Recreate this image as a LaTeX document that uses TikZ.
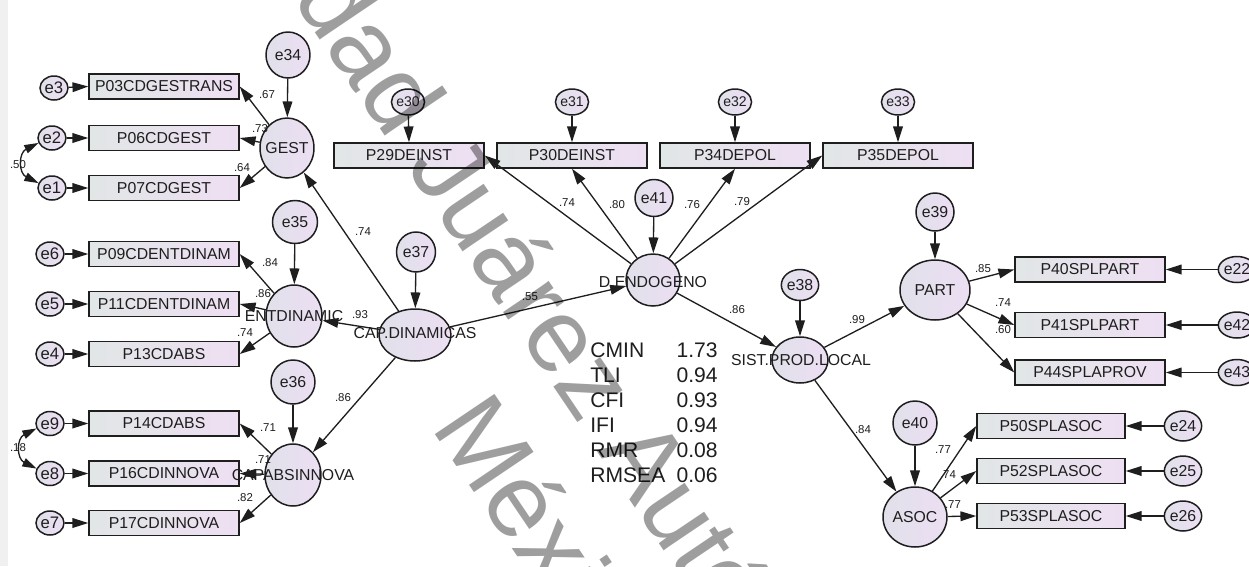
\documentclass[tikz,border=0pt]{standalone}
\usepackage{fontspec}
\setmainfont{Liberation Sans}
\usetikzlibrary{shapes.geometric,arrows.meta}
\definecolor{latL}{HTML}{E1E0EA}
\definecolor{latR}{HTML}{ECDFF3}
\definecolor{boxL}{HTML}{E1E6E6}
\definecolor{boxR}{HTML}{EEDFF3}
\definecolor{ink}{HTML}{1E1E1E}
\begin{document}
\begin{tikzpicture}[x=0.02cm,y=-0.02cm,
  ov/.style={ellipse, draw=ink, line width=0.85pt, left color=latL, right color=latR, inner sep=0pt, text=ink},
  ob/.style={rectangle, draw=ink, line width=0.85pt, left color=boxL, right color=boxR, minimum width=3cm, minimum height=0.5cm, inner sep=0pt, font=\fontsize{9}{10}\selectfont, text=ink},
  lt/.style={font=\fontsize{9}{10}\selectfont, text=ink, inner sep=0pt},
  cf/.style={font=\fontsize{6.5}{7}\selectfont, text=ink, inner sep=0pt},
  pa/.style={draw=ink, line width=0.75pt, -{Triangle[length=9pt,width=5.5pt]}},
  cv/.style={draw=ink, line width=0.75pt, {Triangle[length=8pt,width=5pt]}-{Triangle[length=8pt,width=5pt]}},
  st/.style={font=\fontsize{12}{13}\selectfont, text=ink, inner sep=0pt},
  es/.style={ov, minimum width=0.56cm, minimum height=0.48cm, font=\fontsize{9.5}{10}\selectfont},
  et/.style={ov, minimum width=0.48cm, minimum height=0.52cm, font=\fontsize{8}{9}\selectfont},
  er/.style={ov, minimum width=0.56cm, minimum height=0.52cm, font=\fontsize{9}{10}\selectfont},
  eb/.style={ov, font=\fontsize{9}{10}\selectfont}
]
\useasboundingbox (0,0) rectangle (1249,566);
\clip (0,0) rectangle (1249,566);
\fill[white] (0,0) rectangle (1249,566);
\fill[black!6] (0,0) rectangle (8,566);

% ---------- left indicators ----------
\node[ob] (P03) at (164,86.5) {P03CDGESTRANS};
\node[ob] (P06) at (164,138) {P06CDGEST};
\node[ob] (P07) at (164,188) {P07CDGEST};
\node[ob] (P09) at (164,254) {P09CDENTDINAM};
\node[ob] (P11) at (164,304) {P11CDENTDINAM};
\node[ob] (P13) at (164,354) {P13CDABS};
\node[ob] (P14) at (164,423.5) {P14CDABS};
\node[ob] (P16) at (164,473.5) {P16CDINNOVA};
\node[ob] (P17) at (164,523) {P17CDINNOVA};

\node[es] (e3) at (54,88) {e3};
\node[es] (e2) at (52,138) {e2};
\node[es] (e1) at (52,188) {e1};
\node[es] (e6) at (50,254) {e6};
\node[es] (e5) at (50,304) {e5};
\node[es] (e4) at (50,354) {e4};
\node[es] (e9) at (50,423.5) {e9};
\node[es] (e8) at (50,473.5) {e8};
\node[es] (e7) at (50,523) {e7};

% ---------- top indicators ----------
\node[ob] (P29) at (409,155.5) {P29DEINST};
\node[ob] (P30) at (572,155.5) {P30DEINST};
\node[ob] (P34) at (735,155.5) {P34DEPOL};
\node[ob] (P35) at (898,155.5) {P35DEPOL};
\node[et] (e30) at (408,102) {e30};
\node[et] (e31) at (572,102) {e31};
\node[et] (e32) at (735,102) {e32};
\node[et] (e33) at (898,102) {e33};

% ---------- right indicators ----------
\node[ob] (P40) at (1090,269.5) {P40SPLPART};
\node[ob] (P41) at (1090,325) {P41SPLPART};
\node[ob] (P44) at (1090,372.5) {P44SPLAPROV};
\node[ob, minimum width=2.96cm] (P50) at (1051,426) {P50SPLASOC};
\node[ob, minimum width=2.96cm] (P52) at (1051,471) {P52SPLASOC};
\node[ob, minimum width=2.96cm] (P53) at (1051,516) {P53SPLASOC};
\node[er] (e22) at (1237,269.5) {e22};
\node[er] (e42) at (1237,325) {e42};
\node[er] (e43) at (1237,372.5) {e43};
\node[er, minimum width=0.6cm, minimum height=0.6cm] (e24) at (1183,426) {e24};
\node[er, minimum width=0.6cm, minimum height=0.6cm] (e25) at (1183,471) {e25};
\node[er, minimum width=0.6cm, minimum height=0.6cm] (e26) at (1183,516) {e26};

% ---------- latent variables ----------
\node[ov, minimum width=1.08cm, minimum height=1.2cm] (GEST) at (287,148) {};
\node[ov, minimum width=1.12cm, minimum height=1.24cm] (ENT) at (294,316) {};
\node[ov, minimum width=1.12cm, minimum height=1.24cm] (CAB) at (293,475) {};
\node[ov, minimum width=1.44cm, minimum height=1.04cm] (CAP) at (415,335) {};
\node[ov, minimum width=1.08cm, minimum height=1.04cm] (DEND) at (653,280) {};
\node[ov, minimum width=1.12cm, minimum height=0.92cm] (SIST) at (800,360) {};
\node[ov, minimum width=1.4cm, minimum height=1.2cm] (PART) at (935,290) {};
\node[ov, minimum width=1.28cm, minimum height=1.2cm] (ASOC) at (915,517) {};

\node[eb, minimum width=0.88cm, minimum height=0.92cm] (e34) at (288,55) {e34};
\node[eb, minimum width=0.9cm, minimum height=0.86cm] (e35) at (295,222) {e35};
\node[eb, minimum width=0.88cm, minimum height=0.88cm] (e36) at (293,382) {e36};
\node[eb, minimum width=0.78cm, minimum height=0.8cm] (e37) at (416,252) {e37};
\node[eb, minimum width=0.76cm, minimum height=0.74cm] (e41) at (654,198) {e41};
\node[eb, minimum width=0.68cm, minimum height=0.62cm] (e38) at (800,285) {e38};
\node[eb, minimum width=0.76cm, minimum height=0.76cm] (e39) at (935,212) {e39};
\node[eb, minimum width=0.88cm, minimum height=0.88cm] (e40) at (915,423) {e40};

% ---------- connectors ----------
\draw[pa] (e34) -- (GEST);
\draw[pa] (e35) -- (ENT);
\draw[pa] (e36) -- (CAB);
\draw[pa] (e37) -- (CAP);
\draw[pa] (e41) -- (DEND);
\draw[pa] (e38) -- (SIST);
\draw[pa] (e39) -- (PART);
\draw[pa] (e40) -- (ASOC);

\draw[pa] (GEST) -- (P03.east);
\draw[pa] (GEST) -- (P06.east);
\draw[pa] (GEST) -- (P07.east);
\draw[pa] (ENT) -- (P09.east);
\draw[pa] (ENT) -- (P11.east);
\draw[pa] (ENT) -- (P13.east);
\draw[pa] (CAB) -- (P14.east);
\draw[pa] (CAB) -- (P16.east);
\draw[pa] (CAB) -- (P17.east);

\foreach \e/\p in {e3/P03,e2/P06,e1/P07,e6/P09,e5/P11,e4/P13,e9/P14,e8/P16,e7/P17}
  \draw[pa] (\e) -- (\p.west);
\draw[cv] (e2.200) .. controls +(-20,10) and +(-20,-10) .. (e1.160);
\draw[cv] (e9.200) .. controls +(-20,10) and +(-20,-10) .. (e8.160);

\draw[pa] (CAP) -- (GEST);
\draw[pa] (CAP) -- (ENT);
\draw[pa] (CAP) -- (CAB);
\draw[pa] (CAP) -- (DEND);

\draw[pa] (e30) -- (P29.north);
\draw[pa] (e31) -- (P30.north);
\draw[pa] (e32) -- (P34.north);
\draw[pa] (e33) -- (P35.north);
\draw[pa] (DEND) -- (P29.east);
\draw[pa] (DEND) -- (P30.south);
\draw[pa] (DEND) -- (P34.south);
\draw[pa] (DEND) -- (P35.west);

\draw[pa] (DEND) -- (SIST);
\draw[pa] (SIST) -- (PART);
\draw[pa] (SIST) -- (ASOC);

\draw[pa] (PART) -- (P40.west);
\draw[pa] (PART) -- (P41.west);
\draw[pa] (PART) -- (P44.west);
\draw[pa] (ASOC) -- (P50.west);
\draw[pa] (ASOC) -- (P52.west);
\draw[pa] (ASOC) -- (P53.west);
\draw[pa] (e22) -- (P40.east);
\draw[pa] (e42) -- (P41.east);
\draw[pa] (e43) -- (P44.east);
\draw[pa] (e24) -- (P50.east);
\draw[pa] (e25) -- (P52.east);
\draw[pa] (e26) -- (P53.east);

% ---------- latent labels ----------
\node[lt] (tGEST) at (GEST) {GEST};
\node[lt] (tENT) at (ENT) {ENTDINAMIC};
\node[lt] (tCAB) at (CAB) {CAPABSINNOVA};
\node[lt] (tCAP) at (415,333) {CAP.DINAMICAS};
\node[lt] (tDEND) at (653,282) {D.ENDOGENO};
\node[lt] (tSIST) at (801,360) {SIST.PROD.LOCAL};
\node[lt] (tPART) at (PART) {PART};
\node[lt] (tASOC) at (ASOC) {ASOC};

% ---------- coefficients ----------
\node[cf] (k1) at (267,95) {.67};
\node[cf] (k2) at (260,129) {.73};
\node[cf] (k3) at (242,168) {.64};
\node[cf] (k4) at (18,165) {.50};
\node[cf] (k5) at (270,263) {.84};
\node[cf] (k6) at (263,294) {.86};
\node[cf] (k7) at (245,333) {.74};
\node[cf] (k8) at (268,428) {.71};
\node[cf] (k9) at (263,460) {.71};
\node[cf] (k10) at (245,498) {.82};
\node[cf] (k11) at (18,448) {.18};
\node[cf] (k12) at (363,232) {.74};
\node[cf] (k13) at (360,315) {.93};
\node[cf] (k14) at (343,398) {.86};
\node[cf] (k15) at (530,297) {.55};
\node[cf] (k16) at (567,203) {.74};
\node[cf] (k17) at (617,205) {.80};
\node[cf] (k18) at (692,205) {.76};
\node[cf] (k19) at (742,202) {.79};
\node[cf] (k20) at (737,310) {.86};
\node[cf] (k21) at (857,320) {.99};
\node[cf] (k22) at (863,430) {.84};
\node[cf] (k23) at (983,269) {.85};
\node[cf] (k24) at (1003,303) {.74};
\node[cf] (k25) at (1003,330) {.60};
\node[cf] (k26) at (943,450) {.77};
\node[cf] (k27) at (948,475) {.74};
\node[cf] (k28) at (953,505) {.77};

% ---------- fit indices ----------
\foreach \n/\lab/\val/\yy in {1/CMIN/1.73/350,2/TLI/0.94/375,3/CFI/0.93/400,4/IFI/0.94/425,5/RMR/0.08/450,6/RMSEA/0.06/475}{
  \node[st, anchor=west] (s\n) at (590,\yy) {\lab};
  \node[st, anchor=east] (v\n) at (718,\yy) {\val};
}

% ---------- watermark ----------
\begin{scope}[every node/.style={font=\fontsize{59.5}{60}\selectfont, text=black, text opacity=0.38, inner sep=0pt, rotate=-56}]
\node[anchor=base east] (wm1) at (389,142) {Universidad};
\node[anchor=base west] (wm2) at (405,166) {Juárez Autónoma de Tabasco};
\node[anchor=base west] (wm3) at (430,427) {México};
\end{scope}
\end{tikzpicture}
\end{document}
